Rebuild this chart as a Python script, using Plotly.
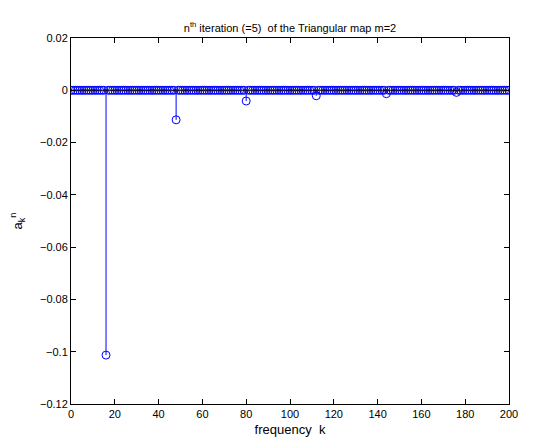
import plotly.graph_objects as go

# Data: frequency index k and coefficient a_k^n
k_values = list(range(0, 201))
nonzero_k = [16, 48, 80, 112, 144, 176]
nonzero_a = [-0.1013, -0.0113, -0.0041, -0.0021, -0.0013, -0.0008]
a_values = [0.0] * len(k_values)
for kk, aa in zip(nonzero_k, nonzero_a):
    a_values[k_values.index(kk)] = aa

x_ticks = [0, 20, 40, 60, 80, 100, 120, 140, 160, 180, 200]
x_ticktext = ["0", "20", "40", "60", "80", "100", "120", "140", "160", "180", "200"]
y_ticks = [0.02, 0, -0.02, -0.04, -0.06, -0.08, -0.1, -0.12]
y_ticktext = ["0.02", "0", "\u22120.02", "\u22120.04", "\u22120.06", "\u22120.08", "\u22120.1", "\u22120.12"]

blue = "rgb(0,0,255)"
font_family = "Liberation Sans, Arial, Helvetica, sans-serif"

# stems
sx, sy = [], []
for kk, aa in zip(k_values, a_values):
    if aa != 0:
        sx += [kk, kk, None]
        sy += [0, aa, None]

fig = go.Figure()
fig.add_trace(go.Scatter(x=sx, y=sy, mode="lines", line=dict(color=blue, width=1),
                         hoverinfo="skip", showlegend=False))
fig.add_trace(go.Scatter(x=k_values, y=a_values, mode="markers",
                         marker=dict(symbol="circle-open", size=8, color=blue,
                                     line=dict(width=1, color=blue)),
                         showlegend=False))
fig.add_trace(go.Scatter(x=[k_values[0], k_values[-1]], y=[0, 0], mode="lines",
                         line=dict(color="black", width=1), hoverinfo="skip",
                         showlegend=False))

fig.update_layout(
    width=533, height=446,
    margin=dict(l=71, r=24, t=38, b=39),
    paper_bgcolor="white", plot_bgcolor="white",
    font=dict(family=font_family, size=11, color="black"),
    title=dict(text="n<sup>th</sup> iteration (=5)  of the Triangular map m=2",
               x=0.5, xref="paper", xanchor="center", y=1, yref="paper",
               yanchor="bottom", pad=dict(b=6), font=dict(size=11)),
)
fig.update_xaxes(range=[0, 200], tickvals=x_ticks, ticktext=x_ticktext,
                 ticks="inside", ticklen=5, tickcolor="black", showgrid=False,
                 zeroline=False, showline=True, linecolor="black", linewidth=1,
                 mirror="allticks",
                 title=dict(text="frequency  k", standoff=5))
fig.update_yaxes(range=[-0.12, 0.02], tickvals=y_ticks, ticktext=y_ticktext,
                 ticks="inside", ticklen=5, tickcolor="black", showgrid=False,
                 zeroline=False, showline=True, linecolor="black", linewidth=1,
                 mirror="allticks",
                 title=dict(text="a<sub>k</sub><sup>n</sup>", standoff=14))

fig.write_html("out.html")
